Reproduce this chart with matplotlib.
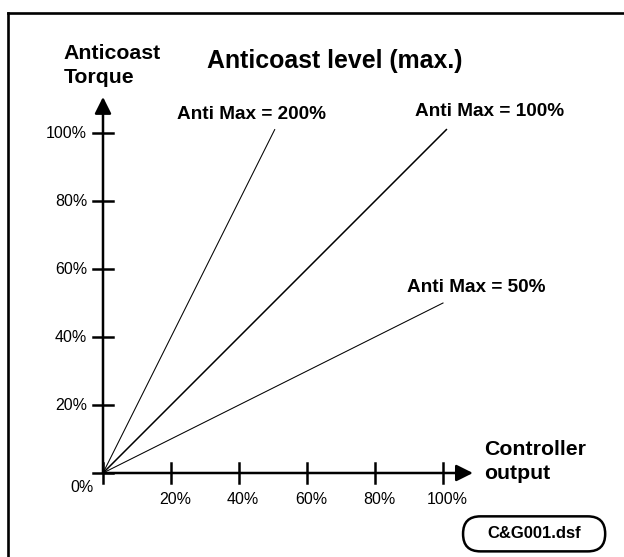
import matplotlib
matplotlib.use("Agg")
import matplotlib.pyplot as plt
from matplotlib.patches import FancyBboxPatch

plt.rcParams['font.family'] = ['Liberation Sans', 'DejaVu Sans']

# anticoast curves: torque = gain * controller output
gains = [2.0, 1.0, 0.5]
x_end = [50.5, 101.0, 100.0]
curve_labels = ["Anti Max = 200%", "Anti Max = 100%", "Anti Max = 50%"]
label_pos = [(21.8, 104.1), (91.8, 105.0), (89.4, 53.2)]
curve_lw = [0.75, 1.1, 0.75]

tick_vals = [20, 40, 60, 80, 100]
tick_text = ["20%", "40%", "60%", "80%", "100%"]

fig = plt.figure(figsize=(6.24, 5.57), dpi=100)
ax = fig.add_axes([0, 0, 1, 1])
# 3.4 px per percent in both directions, origin at (103, 473) px
ax.set_xlim(-103 / 3.4, (624 - 103) / 3.4)
ax.set_ylim(-(557 - 473) / 3.4, 473 / 3.4)
ax.axis('off')

# outer frame (only left and top edges fall inside the picture)
ax.plot([-27.8, -27.8], [-40, 135.3], color='black', lw=1.9, solid_capstyle='projecting')
ax.plot([-27.8, 170], [135.3, 135.3], color='black', lw=1.9, solid_capstyle='projecting')

# axes with arrows
arrow = dict(arrowstyle='-|>,head_length=0.5,head_width=0.25', mutation_scale=20,
             lw=1.8, color='black', shrinkA=0, shrinkB=0)
ax.annotate('', xy=(108.8, 0), xytext=(0, 0), arrowprops=arrow)
ax.annotate('', xy=(0, 110.6), xytext=(0, 0), arrowprops=arrow)

# tick marks
t = 2.9
for v in [0] + tick_vals:
    ax.plot([v, v], [-t, t], color='black', lw=1.8)
    ax.plot([-t, t], [v, v], color='black', lw=1.8)

for v, s in zip(tick_vals, tick_text):
    ax.text(v + 1.2, -7.9, s, ha='center', va='center', fontsize=11.5)
    ax.text(-4.7, v, s, ha='right', va='center', fontsize=11.5)
ax.text(-6.2, -4.4, "0%", ha='center', va='center', fontsize=11.5)

# curves
for g, xe, lw in zip(gains, x_end, curve_lw):
    ax.plot([0, xe], [0, g * xe], color='black', lw=lw)
for s, (lx, ly) in zip(curve_labels, label_pos):
    ax.text(lx, ly, s, ha='left', va='baseline', fontsize=13.7, fontweight='bold')

ax.text(30.6, 119.1, "Anticoast level (max.)", ha='left', va='baseline',
        fontsize=17.9, fontweight='bold')
ax.text(-11.5, 121.8, "Anticoast", ha='left', va='baseline', fontsize=15.3, fontweight='bold')
ax.text(-11.5, 114.7, "Torque", ha='left', va='baseline', fontsize=15.3, fontweight='bold')
ax.text(112.1, 5.3, "Controller", ha='left', va='baseline', fontsize=15.3, fontweight='bold')
ax.text(112.1, -1.8, "output", ha='left', va='baseline', fontsize=15.3, fontweight='bold')

# file tag
w, h = 41.8, 10.3
cx, cy = 126.8, -17.9
ax.add_patch(FancyBboxPatch((cx - w / 2, cy - h / 2), w, h,
                            boxstyle="round,pad=0,rounding_size=5.1",
                            fc='white', ec='black', lw=1.8))
ax.text(cx, cy, "C&G001.dsf", ha='center', va='center', fontsize=12, fontweight='bold')

fig.savefig("out.png", dpi=100)
